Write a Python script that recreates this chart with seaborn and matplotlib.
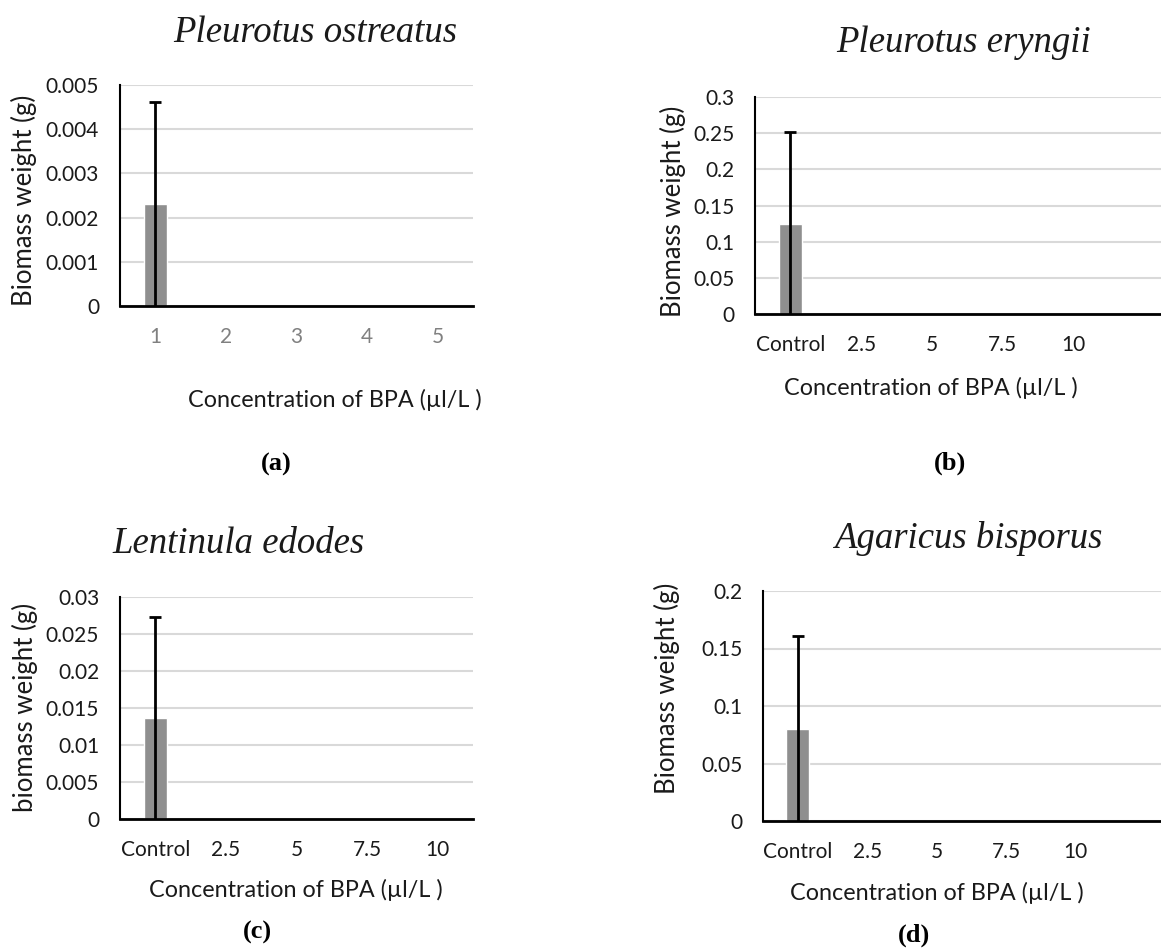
import matplotlib
matplotlib.use("Agg")
import matplotlib.pyplot as plt
import seaborn as sns

W, H = 1161, 949

# data
conc_a = ["1", "2", "3", "4", "5"]
conc = ["Control", "2.5", "5", "7.5", "10"]

weight_a = [0.0023, 0, 0, 0, 0]
err_a = [0.00232, 0, 0, 0, 0]
weight_b = [0.125, 0, 0, 0, 0]
err_b = [0.127, 0, 0, 0, 0]
weight_c = [0.0136, 0, 0, 0, 0]
err_c = [0.0137, 0, 0, 0, 0]
weight_d = [0.080, 0, 0, 0, 0]
err_d = [0.081, 0, 0, 0, 0]

yticks_a = [0, 0.001, 0.002, 0.003, 0.004, 0.005]
yticklabels_a = ["0", "0.001", "0.002", "0.003", "0.004", "0.005"]
yticks_b = [0, 0.05, 0.1, 0.15, 0.2, 0.25, 0.3]
yticklabels_b = ["0", "0.05", "0.1", "0.15", "0.2", "0.25", "0.3"]
yticks_c = [0, 0.005, 0.01, 0.015, 0.02, 0.025, 0.03]
yticklabels_c = ["0", "0.005", "0.01", "0.015", "0.02", "0.025", "0.03"]
yticks_d = [0, 0.05, 0.1, 0.15, 0.2]
yticklabels_d = ["0", "0.05", "0.1", "0.15", "0.2"]

titles = ["Pleurotus ostreatus", "Pleurotus eryngii", "Lentinula edodes", "Agaricus bisporus"]
ylabels = ["Biomass weight (g)", "Biomass weight (g)", "biomass weight (g)", "Biomass weight (g)"]
xlabel = "Concentration of BPA (\u00b5l/L )"
panel_tags = ["(a)", "(b)", "(c)", "(d)"]

sns.set_style("white")
plt.rcParams["font.family"] = ["Lato", "DejaVu Sans"]

BAR_COLOR = "#8f8f8f"
GRID_COLOR = "#d9d9d9"
FS = 15


def fx(x):
    return x / W


def fy(y):
    return 1 - y / H


def draw_panel(fig, box, cats, vals, errs, ticks, ticklabels, xmax, tick_color):
    l, t, r, b = box
    ax = fig.add_axes([fx(l), fy(b), (r - l) / W, (b - t) / H])
    sns.barplot(x=cats, y=vals, color=BAR_COLOR, width=0.33, errorbar=None,
                saturation=1, ax=ax, zorder=2)
    pos = [i for i, e in enumerate(errs) if e > 0]
    ax.errorbar([pos[0]], [vals[pos[0]]], yerr=[errs[pos[0]]], fmt="none",
                ecolor="black", elinewidth=2, capsize=4, capthick=2, zorder=3)
    ax.set_xlim(-0.5, xmax)
    ax.set_ylim(ticks[0], ticks[-1])
    ax.set_yticks(ticks)
    ax.set_yticklabels(ticklabels)
    ax.yaxis.grid(True, color=GRID_COLOR, lw=1.5, zorder=0)
    ax.xaxis.grid(False)
    ax.set_axisbelow(True)
    for s in ["top", "right"]:
        ax.spines[s].set_visible(False)
    ax.spines["left"].set_color("black")
    ax.spines["left"].set_linewidth(1.5)
    ax.spines["bottom"].set_color("black")
    ax.spines["bottom"].set_linewidth(2)
    ax.tick_params(axis="y", length=0, pad=15, labelsize=FS, labelcolor="#1a1a1a")
    ax.tick_params(axis="x", length=0, pad=15, labelsize=FS, labelcolor=tick_color)
    ax.set_xlabel("")
    ax.set_ylabel("")
    return ax


fig = plt.figure(figsize=(W / 100, H / 100), dpi=100)

panels = [
    ([120, 85, 473, 306], conc_a, weight_a, err_a, yticks_a, yticklabels_a, 4.5, "#808080"),
    ([755, 97, 1161, 314], conc, weight_b, err_b, yticks_b, yticklabels_b, 5.24, "#1a1a1a"),
    ([120, 597, 473, 819], conc, weight_c, err_c, yticks_c, yticklabels_c, 4.5, "#1a1a1a"),
    ([763, 591, 1161, 821], conc, weight_d, err_d, yticks_d, yticklabels_d, 5.23, "#1a1a1a"),
]

# label positions in pixels: title (center x, baseline y), ylabel (x, y), xlabel (x, y), tag (x, y)
title_pos = [(315, 42), (964, 52), (238, 553), (968, 548)]
ylabel_pos = [(24, 200), (673, 211), (25, 707), (667, 688)]
xlabel_pos = [(335, 400), (931, 388), (296, 890), (937, 893)]
tag_pos = [(276, 464), (950, 463), (257, 932), (914, 935)]

for i, p in enumerate(panels):
    ax = draw_panel(fig, *p)
    fig.text(fx(title_pos[i][0]), fy(title_pos[i][1]), titles[i], ha="center", va="baseline",
             family="Liberation Serif", style="italic", fontsize=26.5, color="#1a1a1a")
    fig.text(fx(ylabel_pos[i][0]), fy(ylabel_pos[i][1]), ylabels[i], ha="center", va="center",
             rotation=90, fontsize=18.5, color="#1a1a1a")
    fig.text(fx(xlabel_pos[i][0]), fy(xlabel_pos[i][1]), xlabel, ha="center", va="center",
             fontsize=16.8, color="#1a1a1a")
    fig.text(fx(tag_pos[i][0]), fy(tag_pos[i][1]), panel_tags[i], ha="center", va="center",
             family="Liberation Serif", weight="bold", fontsize=19, color="black")

fig.savefig("out.png", dpi=100)
